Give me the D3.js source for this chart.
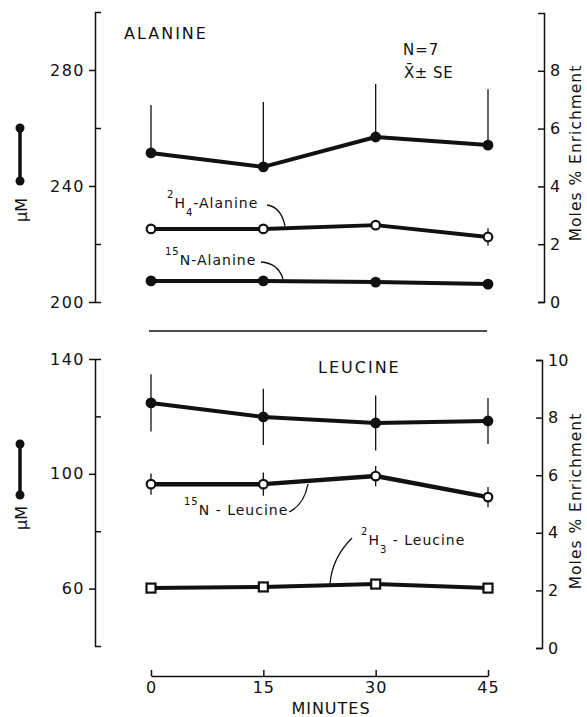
<!DOCTYPE html>
<html><head><meta charset="utf-8">
<script src="https://cdn.jsdelivr.net/npm/d3@7"></script>
<style>
body{margin:0;background:#fff;}
svg{display:block;}
text{font-family:"DejaVu Sans",sans-serif;fill:#111;}
</style></head>
<body>
<script>
// ---------- DATA ----------
const minutes = [0, 15, 30, 45];

// Alanine panel
const alanineConc    = [251.4, 246.6, 256.9, 254.1];   // µM (left axis)
const alanineConcSE  = [16.5, 22.4, 18.3, 19.3];
const h4AlanineEnr   = [2.53, 2.53, 2.66, 2.25];       // moles % enrichment (right axis)
const h4AlanineSE    = [0.1, 0.1, 0.15, 0.3];
const n15AlanineEnr  = [0.73, 0.73, 0.69, 0.62];

// Leucine panel
const leucineConc    = [124.7, 119.8, 117.7, 118.4];
const leucineConcSE  = [10.0, 9.8, 9.6, 8.0];
const n15LeucineEnr  = [5.69, 5.69, 5.97, 5.24];
const n15LeucineSE   = [0.37, 0.4, 0.35, 0.35];
const h3LeucineEnr   = [2.08, 2.12, 2.22, 2.08];

// Tick labels
const alanineLeftTicks  = [200, 240, 280];
const alanineLeftMinor  = [220, 260];
const alanineRightTicks = [0, 2, 4, 6, 8];
const leucineLeftTicks  = [60, 100, 140];
const leucineLeftMinor  = [80, 120];
const leucineRightTicks = [0, 2, 4, 6, 8, 10];
const xTicks = [0, 15, 30, 45];

// ---------- DRAW ----------
const W = 587, H = 717;
const svg = d3.select("body").append("svg").attr("width", W).attr("height", H);

const x = d3.scaleLinear().domain([0, 45]).range([151, 488]);

const topL = d3.scaleLinear().domain([200, 300]).range([302, 12]);
const topR = d3.scaleLinear().domain([0, 10]).range([302, 13]);
const botL = d3.scaleLinear().domain([40, 140]).range([646, 359]);
const botR = d3.scaleLinear().domain([0, 10]).range([648, 360]);

function styleAxis(g, fs, ls) {
  g.selectAll("path.domain").attr("stroke", "#111").attr("stroke-width", 1.5);
  g.selectAll(".tick line").attr("stroke", "#111").attr("stroke-width", 1.5);
  g.selectAll(".tick text").attr("font-family", "DejaVu Sans").attr("font-size", fs)
    .attr("letter-spacing", ls).attr("fill", "#111");
}

function leftAxis(scale, ticks, minor, xpos) {
  const g = svg.append("g").attr("transform", `translate(${xpos},0)`);
  g.call(d3.axisLeft(scale).tickValues(ticks).tickSize(6).tickSizeOuter(-6).tickPadding(4).tickFormat(d3.format("d")));
  styleAxis(g, 16, 1.5);
  const m = svg.append("g").attr("transform", `translate(${xpos},0)`);
  m.call(d3.axisLeft(scale).tickValues(minor).tickSize(-6).tickFormat(""));
  m.select("path.domain").remove();
  styleAxis(m, 16, 0);
}

function rightAxis(scale, ticks, xpos) {
  const g = svg.append("g").attr("transform", `translate(${xpos},0)`);
  g.call(d3.axisRight(scale).tickValues(ticks).tickSize(-6).tickSizeOuter(-6).tickPadding(6).tickFormat(d3.format("d")));
  styleAxis(g, 16, 0);
}

leftAxis(topL, alanineLeftTicks, alanineLeftMinor, 95);
rightAxis(topR, alanineRightTicks, 544);
leftAxis(botL, leucineLeftTicks, leucineLeftMinor, 95);
rightAxis(botR, leucineRightTicks, 542);

// separator line
svg.append("line").attr("x1", 149).attr("x2", 487).attr("y1", 331).attr("y2", 331)
  .attr("stroke", "#111").attr("stroke-width", 1.3);

// x axis
const gx = svg.append("g").attr("transform", "translate(0,676)");
gx.call(d3.axisBottom(x).tickValues(xTicks).tickSize(-6).tickSizeOuter(0).tickPadding(6));
styleAxis(gx, 16, 1);
svg.append("text").attr("x", 331).attr("y", 714).attr("text-anchor", "middle")
  .attr("font-size", 16).attr("letter-spacing", 1).text("MINUTES");

// series drawing
function errorBars(yScale, vals, se, upOnly) {
  svg.append("g").selectAll("line").data(minutes).join("line")
    .attr("x1", d => x(d)).attr("x2", d => x(d))
    .attr("y1", (d, i) => yScale(vals[i] + se[i]))
    .attr("y2", (d, i) => upOnly ? yScale(vals[i]) : yScale(vals[i] - se[i]))
    .attr("stroke", "#111").attr("stroke-width", 1.3);
}
function seriesLine(yScale, vals, w) {
  svg.append("path").datum(minutes.map((m, i) => [m, vals[i]]))
    .attr("fill", "none").attr("stroke", "#111").attr("stroke-width", w)
    .attr("stroke-linejoin", "round")
    .attr("d", d3.line().x(d => x(d[0])).y(d => yScale(d[1])));
}
function circles(yScale, vals, filled) {
  svg.append("g").selectAll("circle").data(minutes).join("circle")
    .attr("cx", d => x(d)).attr("cy", (d, i) => yScale(vals[i])).attr("r", 4.3)
    .attr("fill", filled ? "#111" : "#fff").attr("stroke", "#111").attr("stroke-width", 2.2);
}
function squares(yScale, vals) {
  const s = 9;
  svg.append("g").selectAll("rect").data(minutes).join("rect")
    .attr("x", d => x(d) - s / 2).attr("y", (d, i) => yScale(vals[i]) - s / 2)
    .attr("width", s).attr("height", s)
    .attr("fill", "#fff").attr("stroke", "#111").attr("stroke-width", 2.2);
}

// Alanine
errorBars(topL, alanineConc, alanineConcSE, true);
errorBars(topR, h4AlanineEnr, h4AlanineSE, false);
seriesLine(topL, alanineConc, 4);
seriesLine(topR, h4AlanineEnr, 4);
seriesLine(topR, n15AlanineEnr, 4);
circles(topL, alanineConc, true);
circles(topR, h4AlanineEnr, false);
circles(topR, n15AlanineEnr, true);

// Leucine
errorBars(botL, leucineConc, leucineConcSE, false);
errorBars(botR, n15LeucineEnr, n15LeucineSE, false);
seriesLine(botL, leucineConc, 4);
seriesLine(botR, n15LeucineEnr, 4.5);
seriesLine(botR, h3LeucineEnr, 4);
circles(botL, leucineConc, true);
circles(botR, n15LeucineEnr, false);
squares(botR, h3LeucineEnr);

// ---------- TEXT ----------
function label(xp, yp, txt, fs, ls, anchor) {
  return svg.append("text").attr("x", xp).attr("y", yp).attr("font-size", fs)
    .attr("letter-spacing", ls || 0).attr("text-anchor", anchor || "start").text(txt);
}
label(124, 39, "ALANINE", 16, 2);
label(318, 373, "LEUCINE", 16, 2);
label(403, 55, "N=7", 15, 1);
label(404, 78, "X\u0304\u00B1 SE", 15, 0.5);

// isotope labels with super/subscripts
function isoLabel(xp, yp, sup, main, sub, rest) {
  const t = svg.append("text").attr("x", xp).attr("y", yp).attr("letter-spacing", 1);
  t.append("tspan").attr("font-size", 10).attr("dy", -10).text(sup);
  t.append("tspan").attr("font-size", 14).attr("dy", 10).text(main);
  if (sub) {
    t.append("tspan").attr("font-size", 10).attr("dy", 8).text(sub);
    t.append("tspan").attr("font-size", 14).attr("dy", -8).text(rest);
  } else {
    t.append("tspan").attr("font-size", 14).text(rest);
  }
}
isoLabel(167, 208, "2", "H", "4", "-Alanine");
isoLabel(165, 265, "15", "N", null, "-Alanine");
isoLabel(184, 515, "15", "N", null, " - Leucine");
isoLabel(361, 545, "2", "H", "3", " - Leucine");

// leader lines
const leaders = [
  "M267,205 Q281,207 285,226",
  "M261,262 Q278,263 283,279",
  "M289,512 Q304,505 308,484",
  "M352,538 Q332,558 330,584"
];
svg.append("g").selectAll("path").data(leaders).join("path")
  .attr("d", d => d).attr("fill", "none").attr("stroke", "#111").attr("stroke-width", 1.3);

// unit legends on left
function unitKey(cy1, cy2, ty) {
  svg.append("line").attr("x1", 20).attr("x2", 20).attr("y1", cy1).attr("y2", cy2)
    .attr("stroke", "#111").attr("stroke-width", 3.5);
  [cy1, cy2].forEach(c => svg.append("circle").attr("cx", 20).attr("cy", c).attr("r", 4.5).attr("fill", "#111"));
  svg.append("text").attr("transform", `translate(27,${ty}) rotate(-90)`)
    .attr("text-anchor", "middle").attr("font-size", 16).text("\u00B5M");
}
unitKey(128, 181, 210);
unitKey(444, 495, 518);

// right axis titles
svg.append("text").attr("transform", "translate(581,153) rotate(-90)")
  .attr("text-anchor", "middle").attr("font-size", 15.5).attr("letter-spacing", 1).text("Moles % Enrichment");
svg.append("text").attr("transform", "translate(581,501) rotate(-90)")
  .attr("text-anchor", "middle").attr("font-size", 15.5).attr("letter-spacing", 1).text("Moles % Enrichment");
</script>
</body></html>
